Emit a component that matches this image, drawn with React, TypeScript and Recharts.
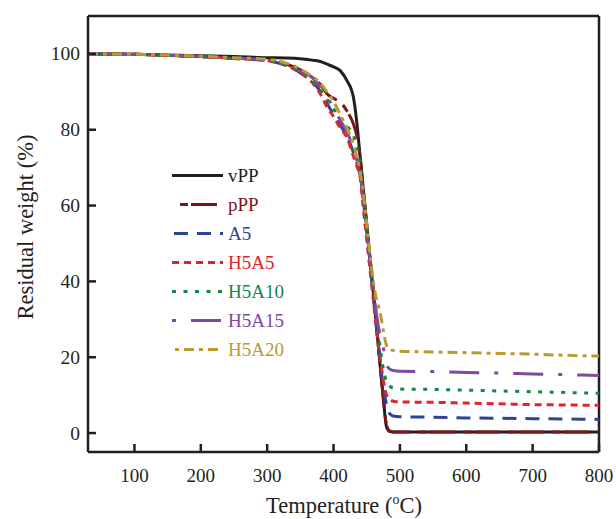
import React from 'react';
import { LineChart, Line, XAxis, YAxis, ReferenceLine, Legend } from 'recharts';

// temperature grid (°C)
const temps = [30, 100, 150, 200, 250, 300, 330, 350, 370, 380, 390, 400, 410, 420, 430, 435, 440, 445, 450, 455, 460, 465, 470, 475, 480, 485, 490, 500, 550, 600, 650, 700, 750, 800];

// residual weight (%) per sample, one value per temperature
const vPP = [100, 99.9, 99.7, 99.5, 99.3, 99.0, 98.9, 98.7, 98.3, 98.0, 97.3, 96.6, 95.6, 93.0, 88.5, 82.0, 73.0, 64.0, 55.0, 46.0, 37.0, 28.0, 18.0, 9.0, 1.5, 0.4, 0.3, 0.3, 0.3, 0.3, 0.3, 0.3, 0.3, 0.3];
const pPP = [100, 99.9, 99.6, 99.3, 98.9, 98.3, 97.2, 95.8, 93.5, 92.0, 89.5, 88.3, 87.3, 85.0, 81.5, 78.5, 73.0, 64.0, 55.0, 46.0, 37.0, 28.0, 18.5, 9.5, 2.0, 0.5, 0.3, 0.3, 0.3, 0.3, 0.3, 0.3, 0.3, 0.3];
const A5 = [100, 99.9, 99.6, 99.3, 98.8, 98.2, 96.8, 95.0, 92.3, 90.2, 87.0, 84.0, 81.2, 78.3, 74.0, 71.5, 68.0, 61.0, 53.0, 45.0, 36.0, 27.0, 19.0, 12.0, 7.5, 5.0, 4.5, 4.3, 4.2, 4.0, 3.9, 3.8, 3.7, 3.6];
const H5A5 = [100, 99.9, 99.6, 99.3, 98.8, 98.3, 96.9, 95.0, 92.0, 89.5, 86.0, 83.5, 80.5, 78.0, 73.0, 70.5, 67.5, 59.0, 51.0, 43.0, 35.0, 27.0, 20.0, 14.0, 10.0, 8.8, 8.4, 8.2, 8.1, 7.9, 7.7, 7.5, 7.4, 7.3];
const H5A10 = [100, 99.9, 99.6, 99.3, 98.8, 98.3, 96.9, 95.2, 92.5, 90.5, 88.0, 85.5, 83.0, 81.0, 78.5, 75.5, 71.0, 62.0, 54.0, 46.0, 38.0, 30.0, 23.0, 17.0, 13.5, 12.3, 11.9, 11.6, 11.5, 11.3, 11.1, 10.9, 10.7, 10.5];
const H5A15 = [100, 99.9, 99.6, 99.3, 98.9, 98.3, 97.0, 95.4, 93.5, 91.3, 88.5, 86.0, 82.5, 79.5, 75.0, 72.0, 68.0, 62.0, 54.0, 46.0, 38.0, 31.0, 26.0, 22.5, 18.0, 16.8, 16.5, 16.3, 16.2, 16.0, 15.8, 15.6, 15.4, 15.2];
const H5A20 = [100, 99.9, 99.7, 99.4, 99.0, 98.6, 97.5, 96.0, 93.8, 92.3, 90.0, 87.5, 84.0, 80.5, 76.0, 73.0, 69.0, 63.0, 55.0, 47.0, 40.0, 35.0, 32.0, 27.0, 23.0, 22.0, 21.8, 21.6, 21.4, 21.2, 21.0, 20.8, 20.5, 20.3];

const xTicks = [100, 200, 300, 400, 500, 600, 700, 800];
const yTicks = [0, 20, 40, 60, 80, 100];

const data = temps.map((t, i) => ({
  t,
  vPP: vPP[i],
  pPP: pPP[i],
  A5: A5[i],
  H5A5: H5A5[i],
  H5A10: H5A10[i],
  H5A15: H5A15[i],
  H5A20: H5A20[i],
}));

const FONT = '"Liberation Serif", "Times New Roman", serif';
const INK = '#231f20';

const series = [
  { key: 'vPP', color: '#231f20', dash: undefined, legendOffset: 0 },
  { key: 'pPP', color: '#7a1619', dash: '8 3 26 8', legendOffset: 37 },
  { key: 'A5', color: '#2e4596', dash: '14 9', legendOffset: 21 },
  { key: 'H5A5', color: '#e3232b', dash: '7 5', legendOffset: 0 },
  { key: 'H5A10', color: '#0f8a45', dash: '4 7.5', legendOffset: 0 },
  { key: 'H5A15', color: '#7f4a9d', dash: '4 15 30 15', legendOffset: 0 },
  { key: 'H5A20', color: '#bb9a30', dash: '10 5 4 5', legendOffset: 12 },
];

function XTick(props: any) {
  const { x, y, payload } = props;
  return (
    <g>
      <line x1={x} y1={y} x2={x} y2={y - 8} stroke={INK} strokeWidth={2.5} />
      <text x={x} y={y + 30} textAnchor="middle" fontFamily={FONT} fontSize={19} fill={INK}>
        {payload.value}
      </text>
    </g>
  );
}

function YTick(props: any) {
  const { x, y, payload } = props;
  return (
    <g>
      <line x1={x} y1={y} x2={x + 8} y2={y} stroke={INK} strokeWidth={2.5} />
      <text x={x - 8} y={y + 6.5} textAnchor="end" fontFamily={FONT} fontSize={19.5} fill={INK}>
        {payload.value}
      </text>
    </g>
  );
}

function LegendBox() {
  return (
    <div style={{ fontFamily: FONT, fontSize: 19 }}>
      {series.map((s) => (
        <div key={s.key} style={{ display: 'flex', alignItems: 'center', height: 29 }}>
          <svg width={56} height={29} style={{ display: 'block' }}>
            <line
              x1={0}
              x2={51}
              y1={14.5}
              y2={14.5}
              stroke={s.color}
              strokeWidth={3}
              strokeDasharray={s.dash}
              strokeDashoffset={s.legendOffset}
            />
          </svg>
          <span style={{ color: s.color, lineHeight: '29px' }}>{s.key}</span>
        </div>
      ))}
    </div>
  );
}

export default function App() {
  return (
    <div style={{ position: 'absolute', left: 0, top: 0, background: '#fff' }}>
      <LineChart width={616} height={519} data={data} margin={{ top: 16, right: 17, bottom: 0, left: 0 }}>
        <XAxis
          dataKey="t"
          type="number"
          domain={[30, 800]}
          ticks={xTicks}
          height={67}
          tickSize={0}
          tickMargin={0}
          tickLine={false}
          tick={(p: any) => <XTick {...p} />}
          axisLine={{ stroke: INK, strokeWidth: 2.5 }}
          allowDataOverflow
          label={{
            content: () => (
              <text x={344} y={513} textAnchor="middle" fontFamily={FONT} fontSize={22.5} fill={INK}>
                Temperature (<tspan dy={-9} fontSize={14}>o</tspan>
                <tspan dy={9}>C)</tspan>
              </text>
            ),
          }}
        />
        <YAxis
          type="number"
          domain={[-5, 110]}
          ticks={yTicks}
          width={88}
          tickSize={0}
          tickMargin={0}
          tickLine={false}
          tick={(p: any) => <YTick {...p} />}
          axisLine={{ stroke: INK, strokeWidth: 2.5 }}
          allowDataOverflow
          label={{
            content: () => (
              <text
                x={33}
                y={227}
                transform="rotate(-90 33 227)"
                textAnchor="middle"
                fontFamily={FONT}
                fontSize={22.5}
                fill={INK}
              >
                Residual weight (%)
              </text>
            ),
          }}
        />
        <ReferenceLine y={110} stroke={INK} strokeWidth={2.5} />
        <ReferenceLine x={800} stroke={INK} strokeWidth={2.5} />
        {series.map((s) => (
          <Line
            key={s.key}
            dataKey={s.key}
            name={s.key}
            type="monotone"
            stroke={s.color}
            strokeWidth={3}
            strokeDasharray={s.dash}
            dot={false}
            activeDot={false}
            isAnimationActive={false}
          />
        ))}
        <Legend
          layout="vertical"
          align="center"
          verticalAlign="middle"
          wrapperStyle={{ left: 172, top: 160.5, width: 130, height: 203 }}
          content={() => <LegendBox />}
        />
      </LineChart>
    </div>
  );
}
